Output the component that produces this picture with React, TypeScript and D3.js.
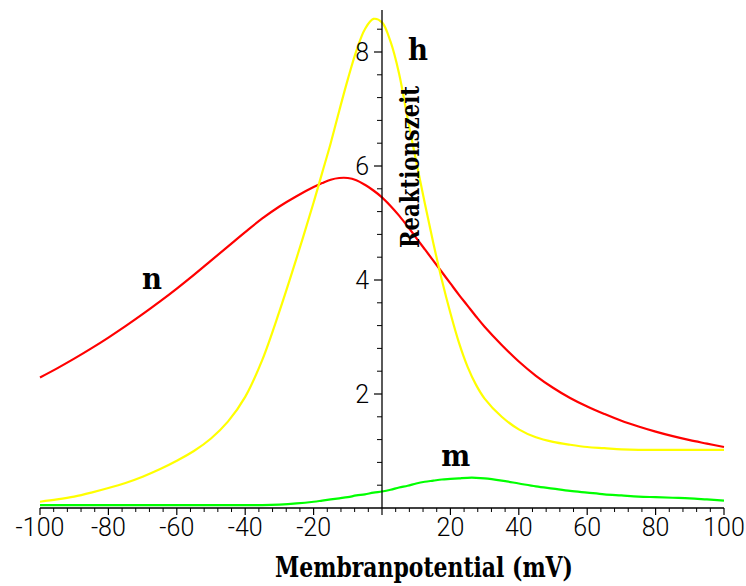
import React from "react";
import * as d3 from "d3";

const voltages = [
  -100, -95, -90, -85, -80, -75, -70, -65, -60, -55, -50, -45, -40, -35, -30, -25, -20,
  -17.5, -15, -12.5, -10, -7.5, -5, -2.5, 0, 2.5, 5, 7.5, 10, 12.5, 15, 17.5, 20, 22.5, 25, 27.5, 30,
  35, 40, 45, 50, 55, 60, 65, 70, 75, 80, 85, 90, 95, 100,
];

const tauN = [
  2.29, 2.45, 2.62, 2.8, 2.99, 3.19, 3.4, 3.62, 3.85, 4.09, 4.34, 4.59, 4.84, 5.08, 5.29, 5.47, 5.63,
  5.7, 5.76, 5.79, 5.79, 5.75, 5.67, 5.57, 5.45, 5.3, 5.13, 4.94, 4.74, 4.54, 4.34, 4.14, 3.94, 3.74, 3.55, 3.36, 3.18,
  2.86, 2.57, 2.32, 2.11, 1.93, 1.78, 1.65, 1.53, 1.43, 1.34, 1.26, 1.19, 1.13, 1.07,
];

const tauH = [
  0.11, 0.15, 0.2, 0.27, 0.35, 0.44, 0.55, 0.68, 0.83, 1.0, 1.22, 1.52, 1.95, 2.6, 3.45, 4.38, 5.36,
  5.88, 6.4, 6.97, 7.52, 8.02, 8.4, 8.58, 8.52, 8.18, 7.62, 6.83, 6.08, 5.35, 4.65, 4.0, 3.42, 2.9, 2.48, 2.16, 1.92,
  1.6, 1.38, 1.24, 1.16, 1.11, 1.07, 1.05, 1.03, 1.02, 1.02, 1.02, 1.02, 1.02, 1.02,
];

const tauM = [
  0.05, 0.05, 0.05, 0.05, 0.05, 0.05, 0.05, 0.05, 0.05, 0.05, 0.05, 0.05, 0.05, 0.05, 0.06, 0.08, 0.11,
  0.13, 0.15, 0.17, 0.19, 0.22, 0.24, 0.27, 0.29, 0.32, 0.36, 0.39, 0.43, 0.46, 0.48, 0.5, 0.51, 0.52, 0.53, 0.53, 0.52,
  0.48, 0.43, 0.38, 0.34, 0.3, 0.27, 0.24, 0.22, 0.2, 0.19, 0.18, 0.17, 0.15, 0.13,
];

const xMajorTicks = [-100, -80, -60, -40, -20, 20, 40, 60, 80, 100];
const yMajorTicks = [2, 4, 6, 8];

const seriesNames = ["n", "h", "m"];
const seriesColors = ["#ff0000", "#ffff00", "#00ff00"];
// label anchor in data units: [voltage, time]
const labelVoltage = [-70.2, 7.6, 17.3];
const labelTime = [3.84, 7.86, 0.74];

const xTitle = "Membranpotential (mV)";
const yTitle = "Reaktionszeit";

export default function App() {
  const W = 746;
  const H = 586;
  const x = d3.scaleLinear().domain([-100, 100]).range([40, 724]);
  const y = d3.scaleLinear().domain([0, 8]).range([508, 52]);

  const series = [tauN, tauH, tauM];
  const line = d3
    .line<number>()
    .x((_, i) => x(voltages[i]))
    .y((d) => y(d))
    .curve(d3.curveCatmullRom.alpha(0.5));

  const xMinor = d3.range(-100, 100.001, 4).filter((v) => Math.abs(v % 20) > 0.001);
  const yMinor = d3.range(0.4, 8.41, 0.4).filter((v) => Math.abs(v / 2 - Math.round(v / 2)) > 0.01);

  const x0 = x(0);
  const y0 = y(0);
  const tickFont = "Roboto, 'Liberation Sans', Arial, sans-serif";
  const serif = "'DejaVu Serif', serif";

  return (
    <svg
      width={W}
      height={H}
      style={{ position: "absolute", left: 0, top: 0, background: "#fff" }}
    >
      <rect x={0} y={0} width={W} height={H} fill="#fff" />
      {series.map((s, i) => (
        <path
          key={seriesNames[i]}
          d={line(s) || ""}
          fill="none"
          stroke={seriesColors[i]}
          strokeWidth={2.2}
        />
      ))}

      {/* x axis */}
      <line x1={x(-100)} x2={x(100)} y1={y0} y2={y0} stroke="#000" strokeWidth={1.3} />
      {xMinor.map((v) => (
        <line key={"xm" + v} x1={x(v)} x2={x(v)} y1={y0} y2={y0 + 4} stroke="#000" strokeWidth={1} />
      ))}
      {[...xMajorTicks, 0].map((v) => (
        <line key={"xM" + v} x1={x(v)} x2={x(v)} y1={y0} y2={y0 + 7} stroke="#000" strokeWidth={1.2} />
      ))}
      {xMajorTicks.map((v) => (
        <text
          key={"xl" + v}
          x={x(v)}
          y={536}
          textAnchor="middle"
          fontFamily={tickFont}
          fontWeight={300}
          fontSize={25}
          fill="#000"
        >
          {v}
        </text>
      ))}

      {/* y axis */}
      <line x1={x0} x2={x0} y1={10} y2={y0} stroke="#000" strokeWidth={1.3} />
      {yMinor.map((v) => (
        <line key={"ym" + v} x1={x0 - 5} x2={x0} y1={y(v)} y2={y(v)} stroke="#000" strokeWidth={1} />
      ))}
      {yMajorTicks.map((v) => (
        <line key={"yM" + v} x1={x0 - 8} x2={x0} y1={y(v)} y2={y(v)} stroke="#000" strokeWidth={1.2} />
      ))}
      {yMajorTicks.map((v) => (
        <text
          key={"yl" + v}
          x={x0 - 13}
          y={y(v) + 9}
          textAnchor="end"
          fontFamily={tickFont}
          fontWeight={300}
          fontSize={25}
          fill="#000"
        >
          {v}
        </text>
      ))}

      {/* titles */}
      <text
        x={424}
        y={577}
        textAnchor="middle"
        fontFamily={serif}
        fontWeight="bold"
        fontSize={27}
        textLength={298}
        lengthAdjust="spacingAndGlyphs"
        fill="#000"
      >
        {xTitle}
      </text>
      <text
        transform={`translate(419,167) rotate(-90)`}
        textAnchor="middle"
        fontFamily={serif}
        fontWeight="bold"
        fontSize={26}
        textLength={162}
        lengthAdjust="spacingAndGlyphs"
        fill="#000"
      >
        {yTitle}
      </text>

      {/* curve labels */}
      {seriesNames.map((n, i) => (
        <text
          key={"lab" + n}
          x={x(labelVoltage[i])}
          y={y(labelTime[i])}
          fontFamily={serif}
          fontWeight="bold"
          fontSize={30}
          textLength={n === "m" ? 29 : 20}
          lengthAdjust="spacingAndGlyphs"
          fill="#000"
        >
          {n}
        </text>
      ))}
    </svg>
  );
}
